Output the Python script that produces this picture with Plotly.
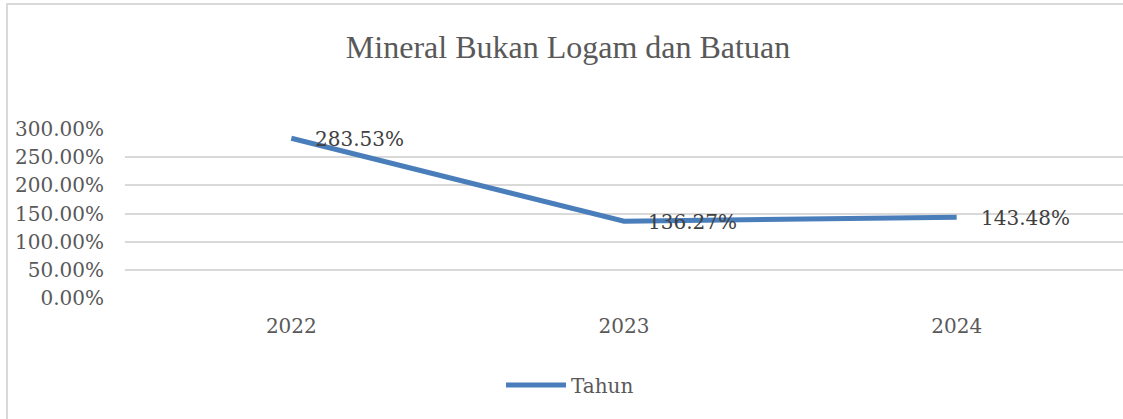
import plotly.graph_objects as go

years = ["2022", "2023", "2024"]
values = [2.8353, 1.3627, 1.4348]
labels = ["283.53%", "136.27%", "143.48%"]
series_name = "Tahun"
title_text = "Mineral Bukan Logam dan Batuan"

W, H = 1123, 419
L, R, T, B = 125, 0, 129, 121
pw, ph = W - L - R, H - T - B

fig = go.Figure()
fig.add_trace(go.Scatter(
    x=years, y=values, mode="lines", name=series_name,
    line=dict(color="#4A7EBB", width=5),
    cliponaxis=False, hoverinfo="skip",
))

for i, (yv, tv) in enumerate(zip(values, labels)):
    fig.add_annotation(x=i, y=yv, xref="x", yref="y", text=tv, showarrow=False,
                       xanchor="left", yanchor="middle", xshift=22, yshift=-1,
                       font=dict(family="DejaVu Serif", size=20, color="#404040"))

gx = lambda px: (px - L) / pw
gy = lambda py: (H - B - py) / ph

fig.update_layout(
    width=W, height=H,
    margin=dict(l=L, r=R, t=T, b=B),
    paper_bgcolor="white", plot_bgcolor="white",
    title=dict(text=title_text, x=568 / W, xanchor="center", y=1 - 47 / H, yanchor="middle",
               yref="container",
               font=dict(family="Liberation Serif", size=32, color="#595959")),
    showlegend=True,
    legend=dict(orientation="h", x=gx(570), xanchor="center", y=gy(385), yanchor="middle",
                font=dict(family="DejaVu Serif", size=20, color="#595959"),
                itemwidth=60),
    xaxis=dict(type="category", range=[-0.5, 2.5], showgrid=False, showline=False,
               zeroline=False, ticks="", ticklabelstandoff=14,
               tickfont=dict(family="DejaVu Serif", size=20, color="#595959")),
    yaxis=dict(range=[0, 3], dtick=0.5, tickformat=".2%", showgrid=True,
               gridcolor="#D9D9D9", gridwidth=1.5, zeroline=False, showline=False,
               ticks="", ticklabelstandoff=20,
               tickfont=dict(family="DejaVu Serif", size=20, color="#595959")),
    shapes=[dict(type="rect", xref="paper", yref="paper",
                 x0=gx(7), x1=gx(1140), y0=gy(4), y1=gy(440),
                 line=dict(color="#D9D9D9", width=2), layer="below")],
)

fig.write_html("out.html", config={"displayModeBar": False},
               post_script="document.body.style.margin='0';document.body.style.overflow='hidden';")
